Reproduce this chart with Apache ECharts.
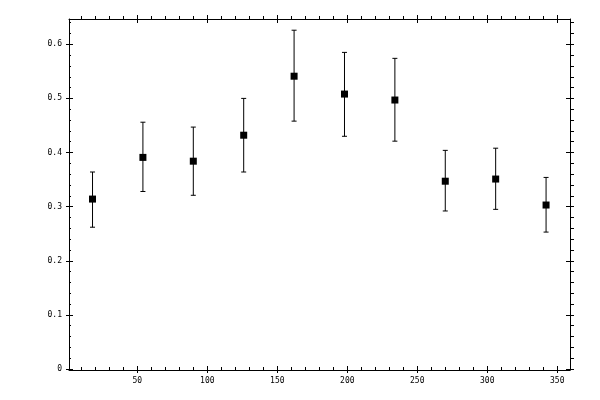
<!DOCTYPE html>
<html>
<head>
<meta charset="utf-8">
<script src="https://cdn.jsdelivr.net/npm/echarts@6/dist/echarts.min.js"></script>
<style>html,body{margin:0;padding:0;background:#fff}#c{width:600px;height:400px}</style>
</head>
<body>
<div id="c"></div>
<script>
// ---- data ----
const xValues = [18, 54, 90, 126, 162, 198, 234, 270, 306, 342];
const yValues = [0.314, 0.391, 0.384, 0.432, 0.541, 0.508, 0.497, 0.347, 0.351, 0.303];
const yHigh   = [0.364, 0.456, 0.447, 0.500, 0.626, 0.585, 0.574, 0.404, 0.408, 0.354];
const yLow    = [0.262, 0.328, 0.321, 0.364, 0.458, 0.430, 0.421, 0.292, 0.295, 0.253];

// ---- ticks ----
const xMajorTicks = [50, 100, 150, 200, 250, 300, 350];
const xMinorTicks = [10, 20, 30, 40, 60, 70, 80, 90, 110, 120, 130, 140, 160, 170, 180, 190,
                     210, 220, 230, 240, 260, 270, 280, 290, 310, 320, 330, 340];
const yMajorTicks = [0, 0.1, 0.2, 0.3, 0.4, 0.5, 0.6];
const yMinorTicks = [0.02, 0.04, 0.06, 0.08, 0.12, 0.14, 0.16, 0.18, 0.22, 0.24, 0.26, 0.28,
                     0.32, 0.34, 0.36, 0.38, 0.42, 0.44, 0.46, 0.48, 0.52, 0.54, 0.56, 0.58,
                     0.62, 0.64];

const X_MIN = 1.2, X_MAX = 359.1;
const Y_MIN = -0.0018, Y_MAX = 0.6467;

const FONT = {fontFamily: 'DejaVu Sans Mono', fontSize: 8, color: '#000'};
const LS = {color: '#000', width: 1};

function axis(min, max, position, ticks, inside, len, showLine, labels) {
  return {
    type: 'value', min: min, max: max, position: position,
    axisLine: {show: showLine, onZero: false, lineStyle: LS},
    axisTick: {show: true, inside: inside, length: len, customValues: ticks, lineStyle: LS},
    axisLabel: labels ? Object.assign({show: true, customValues: labels, margin: 7}, FONT) : {show: false},
    splitLine: {show: false},
    minorTick: {show: false},
    z: 5
  };
}

const xAxes = [
  axis(X_MIN, X_MAX, 'bottom', xMajorTicks, true, 4, true, xMajorTicks),
  axis(X_MIN, X_MAX, 'bottom', xMajorTicks, false, 3, false, null),
  axis(X_MIN, X_MAX, 'bottom', xMinorTicks, true, 3, false, null),
  axis(X_MIN, X_MAX, 'top', xMajorTicks, true, 4, true, null),
  axis(X_MIN, X_MAX, 'top', xMajorTicks, false, 4, false, null),
  axis(X_MIN, X_MAX, 'top', xMinorTicks, false, 3, false, null)
];
const yAxes = [
  axis(Y_MIN, Y_MAX, 'left', yMajorTicks, true, 4, true, yMajorTicks),
  axis(Y_MIN, Y_MAX, 'left', yMajorTicks, false, 3, false, null),
  axis(Y_MIN, Y_MAX, 'left', yMinorTicks, true, 2, false, null),
  axis(Y_MIN, Y_MAX, 'right', yMajorTicks, true, 4, true, null),
  axis(Y_MIN, Y_MAX, 'right', yMajorTicks, false, 4, false, null),
  axis(Y_MIN, Y_MAX, 'right', yMinorTicks, false, 4, false, null)
];

const pointData = xValues.map((x, i) => [x, yValues[i]]);
const errData = xValues.map((x, i) => [x, yLow[i], yHigh[i]]);

const chart = echarts.init(document.getElementById('c'), null, {renderer: 'canvas'});
chart.setOption({
  animation: false,
  backgroundColor: '#fff',
  grid: {left: 69, right: 30, top: 19, bottom: 30, containLabel: false, outerBoundsMode: 'none'},
  xAxis: xAxes,
  yAxis: yAxes,
  series: [
    {
      type: 'custom',
      xAxisIndex: 0, yAxisIndex: 0,
      data: errData,
      encode: {x: 0, y: [1, 2]},
      clip: false,
      z: 3,
      renderItem: function (params, api) {
        const x = api.value(0);
        const lo = api.coord([x, api.value(1)]);
        const hi = api.coord([x, api.value(2)]);
        const w = 2.5;
        const st = {stroke: '#000', lineWidth: 1};
        return {
          type: 'group',
          children: [
            {type: 'line', shape: {x1: lo[0], y1: lo[1], x2: hi[0], y2: hi[1]}, style: st},
            {type: 'line', shape: {x1: hi[0] - w, y1: hi[1], x2: hi[0] + w, y2: hi[1]}, style: st},
            {type: 'line', shape: {x1: lo[0] - w, y1: lo[1], x2: lo[0] + w, y2: lo[1]}, style: st}
          ]
        };
      }
    },
    {
      type: 'scatter',
      xAxisIndex: 0, yAxisIndex: 0,
      data: pointData,
      symbol: 'rect',
      symbolSize: 7,
      itemStyle: {color: '#000', opacity: 1},
      z: 4
    }
  ]
});
</script>
</body>
</html>
